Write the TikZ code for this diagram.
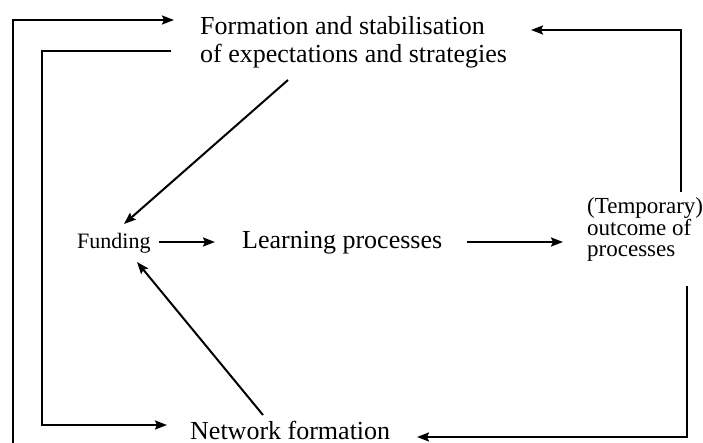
\documentclass[tikz,border=0pt]{standalone}
\usepackage{fontspec}
\setmainfont{Liberation Serif}
\usetikzlibrary{arrows.meta}
\begin{document}
\begin{tikzpicture}[x=1pt,y=-1pt,
  lbl/.style={inner sep=0pt,anchor=base west},
  multi/.style={lbl,align=left},
  big/.style={lbl,font=\fontsize{26}{28.5}\selectfont},
  small/.style={lbl,font=\fontsize{22}{21.5}\selectfont},
  outc/.style={multi,font=\fontsize{23}{21.5}\selectfont},
  arr/.style={line width=2pt,-{Stealth[length=12pt,width=9pt,inset=2pt]}},
  ln/.style={line width=2pt}]
\useasboundingbox (0,0) rectangle (703,443);
\node[big,multi] (form) at (200,63) {Formation and stabilisation\\of expectations and strategies};
\node[small] (fund) at (77,249) {Funding};
\node[big] (learn) at (242,249) {Learning processes};
\node[outc] (out) at (587,257) {(Temporary)\\outcome of\\processes};
\node[big] (net) at (190,439) {Network formation};
% coordinates
\coordinate (a1) at (13,443);
\coordinate (a2) at (174,20);
\coordinate (b1) at (171,51);
\coordinate (b2) at (167,425);
\coordinate (c1) at (681,192);
\coordinate (c2) at (531,30);
\coordinate (e1) at (687,286);
\coordinate (e2) at (417,437);
\coordinate (f1) at (288,80);
\coordinate (f2) at (124,224);
\coordinate (g1) at (263,415);
\coordinate (g2) at (137,262);
% connectors
\draw[arr] (a1) |- (a2);
\draw[arr] (b1) -| (42,425) -- (b2);
\draw[arr] (c1) |- (c2);
\draw[arr] (e1) |- (e2);
\draw[arr] (f1) -- (f2);
\draw[arr] (g1) -- (g2);
\draw[arr,shorten <=8pt,shorten >=27pt] (fund.east |- 0,242) -- (learn.west |- 0,242);
\draw[arr,shorten <=25pt,shorten >=24pt] (learn.east |- 0,242) -- (out.west |- 0,242);
\end{tikzpicture}
\end{document}
